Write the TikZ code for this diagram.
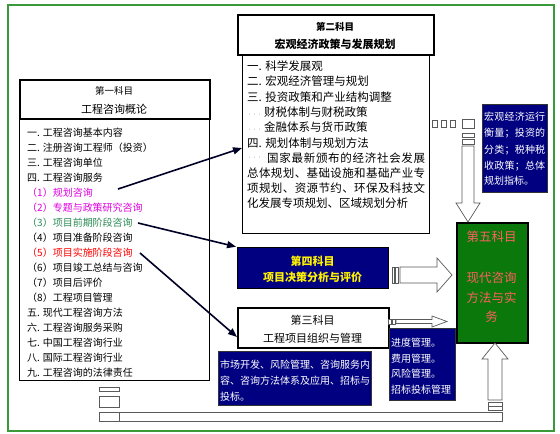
\documentclass[tikz,border=0pt]{standalone}
\usepackage{fontspec}
\setmainfont{Noto Sans CJK SC}
\usetikzlibrary{arrows.meta}
\definecolor{mynavy}{HTML}{000080}
\definecolor{bordergreen}{HTML}{3A9A3A}
\definecolor{boxgreen}{HTML}{0A780A}
\definecolor{pinkred}{HTML}{FF6060}
\definecolor{magen}{HTML}{E000E0}
\definecolor{tealg}{HTML}{2E8B57}
\definecolor{arrgray}{HTML}{5A5A5A}
\def\sprdA#1{#1\sprdB}
\def\sprdB#1{\ifx\relax#1\else\hfill#1\expandafter\sprdB\fi}
\newcommand\spreadtxt[2]{\makebox[#1][s]{\sprdA#2\relax}}
\newcommand\gdots{\textcolor{gray!60}{\fontsize{5}{6}\selectfont ···}}
\begin{document}
\begin{tikzpicture}[x=1pt,y=-1pt,
  box/.style={draw=black, line width=0.8pt, fill=white, inner sep=0pt, anchor=north west},
  tbox/.style={box, line width=2pt},
  navybox/.style={box, fill=mynavy, draw=black!80, line width=0.6pt},
  ln/.style={inner sep=0pt, anchor=west, font=\fontsize{10}{12}\selectfont},
  lnb/.style={inner sep=0pt, anchor=west, font=\fontsize{11.5}{13}\selectfont},
  wl/.style={inner sep=0pt, anchor=west, text=white, font=\fontsize{10}{12}\selectfont},
  ttl/.style={inner sep=0pt, font=\fontsize{11}{13}\selectfont},
  arr/.style={draw=black!85!blue, line width=1.6pt, -{Triangle[length=9pt,width=7pt]}},
  blk/.style={draw=arrgray, line width=0.7pt, fill=white},
]
\useasboundingbox (0,0) rectangle (560,434);
\fill[white] (0,0) rectangle (560,434);
\node[draw=bordergreen, line width=1.6pt, anchor=north west, minimum width=546pt, minimum height=426pt, inner sep=0pt] (frame) at (7,4) {};

% Box 1
\node[box, minimum width=190pt, minimum height=262pt] (c1) at (19,118) {};
\node[tbox, minimum width=190pt, minimum height=39pt] (t1) at (19,79) {};
\node[ttl, font=\fontsize{9.5}{11}\selectfont] (t1a) at (114,91) {第一科目};
\node[ttl] (t1b) at (114,109) {工程咨询概论};
\node[ln] (b1l1) at (27,133) {一. 工程咨询基本内容};
\node[ln] (b1l2) at (27,148) {二. 注册咨询工程师（投资）};
\node[ln] (b1l3) at (27,163) {三. 工程咨询单位};
\node[ln] (b1l4) at (27,178) {四. 工程咨询服务};
\node[ln, text=magen] (b1l5) at (27,193) {（1）规划咨询};
\node[ln, text=magen] (b1l6) at (27,208) {（2）专题与政策研究咨询};
\node[ln, text=tealg] (b1l7) at (27,223) {（3）项目前期阶段咨询};
\node[ln] (b1l8) at (27,238) {（4）项目准备阶段咨询};
\node[ln, text=red] (b1l9) at (27,253) {（5）项目实施阶段咨询};
\node[ln] (b1l10) at (27,268) {（6）项目竣工总结与咨询};
\node[ln] (b1l11) at (27,283) {（7）项目后评价};
\node[ln] (b1l12) at (27,298) {（8）工程项目管理};
\node[ln] (b1l13) at (27,313) {五. 现代工程咨询方法};
\node[ln] (b1l14) at (27,328) {六. 工程咨询服务采购};
\node[ln] (b1l15) at (27,343) {七. 中国工程咨询行业};
\node[ln] (b1l16) at (27,358) {八. 国际工程咨询行业};
\node[ln] (b1l17) at (27,373) {九. 工程咨询的法律责任};

% Box 2
\node[box, minimum width=187pt, minimum height=179pt] (c2) at (242,54) {};
\node[tbox, minimum width=196pt, minimum height=40pt] (t2) at (237,14) {};
\node[ttl, font=\fontsize{9.5}{11}\selectfont\bfseries] (t2a) at (335,27) {第二科目};
\node[ttl, font=\fontsize{11}{13}\selectfont\bfseries] (t2b) at (335,44) {宏观经济政策与发展规划};
\node[lnb] (b2l1) at (247,66) {一. 科学发展观};
\node[lnb] (b2l2) at (247,81) {二. 宏观经济管理与规划};
\node[lnb] (b2l3) at (247,97) {三. 投资政策和产业结构调整};
\node[lnb] (b2l4) at (247,112) {\gdots\,财税体制与财税政策};
\node[lnb] (b2l5) at (247,127) {\gdots\,金融体系与货币政策};
\node[lnb] (b2l6) at (247,143) {四. 规划体制与规划方法};
\node[lnb] (b2l7d) at (247,158) {\gdots};
\node[lnb] (b2l7) at (267,158) {\spreadtxt{158pt}{国家最新颁布的经济社会发展}};
\node[lnb] (b2l8) at (247,173) {\spreadtxt{178pt}{总体规划、基础设施和基础产业专}};
\node[lnb] (b2l9) at (247,188) {\spreadtxt{178pt}{项规划、资源节约、环保及科技文}};
\node[lnb] (b2l10) at (247,203) {化发展专项规划、区域规划分析};

% Box 4
\node[box, fill=mynavy, line width=1.2pt, minimum width=151pt, minimum height=41pt] (b4) at (237,247) {};
\node[ttl, text=yellow, font=\fontsize{11}{13}\selectfont\bfseries] (b4a) at (312.5,261) {第四科目};
\node[ttl, text=yellow, font=\fontsize{11}{13}\selectfont\bfseries] (b4b) at (312.5,277) {项目决策分析与评价};

% Box 3
\node[tbox, minimum width=151pt, minimum height=40pt] (b3) at (237,307) {};
\node[ttl] (b3a) at (312.5,320) {第三科目};
\node[ttl] (b3b) at (312.5,338) {工程项目组织与管理};

% Box 5
\node[tbox, fill=boxgreen, minimum width=71pt, minimum height=120pt] (b5) at (456,222) {};
\node[ttl, text=pinkred, font=\fontsize{12.5}{14}\selectfont] (b5a) at (491.5,237) {第五科目};
\node[ttl, text=pinkred, font=\fontsize{12.5}{14}\selectfont] (b5b) at (491.5,278) {现代咨询};
\node[ttl, text=pinkred, font=\fontsize{12.5}{14}\selectfont] (b5c) at (491.5,298) {方法与实};
\node[ttl, text=pinkred, font=\fontsize{12.5}{14}\selectfont] (b5d) at (491.5,317) {务};

% Navy boxes
\node[navybox, minimum width=65pt, minimum height=88pt] (n1) at (482,104) {};
\node[wl] (n1a) at (484,117) {\spreadtxt{61pt}{宏观经济运行}};
\node[wl] (n1b) at (484,133) {\spreadtxt{61pt}{衡量；投资的}};
\node[wl] (n1c) at (484,150) {\spreadtxt{61pt}{分类；税种税}};
\node[wl] (n1d) at (484,166) {\spreadtxt{61pt}{收政策；总体}};
\node[wl] (n1e) at (484,181) {规划指标。};

\node[navybox, minimum width=153pt, minimum height=54pt] (n2) at (218,351) {};
\node[wl] (n2a) at (220,365) {市场开发、风险管理、咨询服务内};
\node[wl] (n2b) at (220,381) {容、咨询方法体系及应用、招标与};
\node[wl] (n2c) at (220,397) {投标。};

\node[navybox, minimum width=66pt, minimum height=72pt] (n3) at (389,328) {};
\node[wl] (n3a) at (391,343) {进度管理。};
\node[wl] (n3b) at (391,359) {费用管理。};
\node[wl] (n3c) at (391,374) {风险管理。};
\node[wl] (n3d) at (391,390) {招标投标管理};

% Thin arrows
\coordinate (s1) at (118,189);
\coordinate (e1) at (240,148);
\draw[arr] (s1) -- (c2.west |- e1);
\coordinate (s2) at (138,223);
\draw[arr, shorten >=1pt] (s2) -- (b4.north west);
\coordinate (s3) at (140,253);
\coordinate (e3) at (233,337);
\draw[arr] (s3) -- (b3.west |- e3);

% Block arrow: box 4 -> box 5
\draw[blk] (392,267) rectangle (394.5,283);
\draw[blk] (395.5,267) rectangle (398,283);
\draw[blk] (400,267) -- (437,267) -- (437,258) -- (452,275) -- (437,292) -- (437,283) -- (400,283) -- cycle;

% Block arrow: box 3 -> box 5
\draw[blk] (388,319) rectangle (391,324);
\draw[blk] (392,319) rectangle (395,324);
\draw[blk] (396,319.5) -- (432,319.5) -- (432,316) -- (447,321.5) -- (432,327) -- (432,323.5) -- (396,323.5) -- cycle;

% Block arrow: box 2 -> box 5 (down)
\draw[blk] (432,120) rectangle (437,127);
\draw[blk] (441,120) rectangle (446,127);
\draw[blk] (450,120) rectangle (455,127);
\draw[blk] (462,119) rectangle (474,128);
\draw[blk] (462,133) rectangle (474,137);
\draw[blk] (462,139) rectangle (474,144);
\draw[blk] (462,146) -- (474,146) -- (474,203) -- (480,203) -- (468,222) -- (456,203) -- (462,203) -- cycle;

% Block arrow: bottom band -> box 5 (up)
\draw[blk] (99,387) rectangle (119,391);
\draw[blk] (99,396) rectangle (119,407);
\draw[blk] (99,412) rectangle (119,421);
\draw[blk] (119,412) rectangle (502,421);
\draw[blk] (488,402) rectangle (502,406);
\draw[blk] (488,406.5) rectangle (502,410.5);
\draw[blk] (488,400) -- (488,359) -- (482,359) -- (495,343) -- (508,359) -- (502,359) -- (502,400) -- cycle;
\end{tikzpicture}
\end{document}
